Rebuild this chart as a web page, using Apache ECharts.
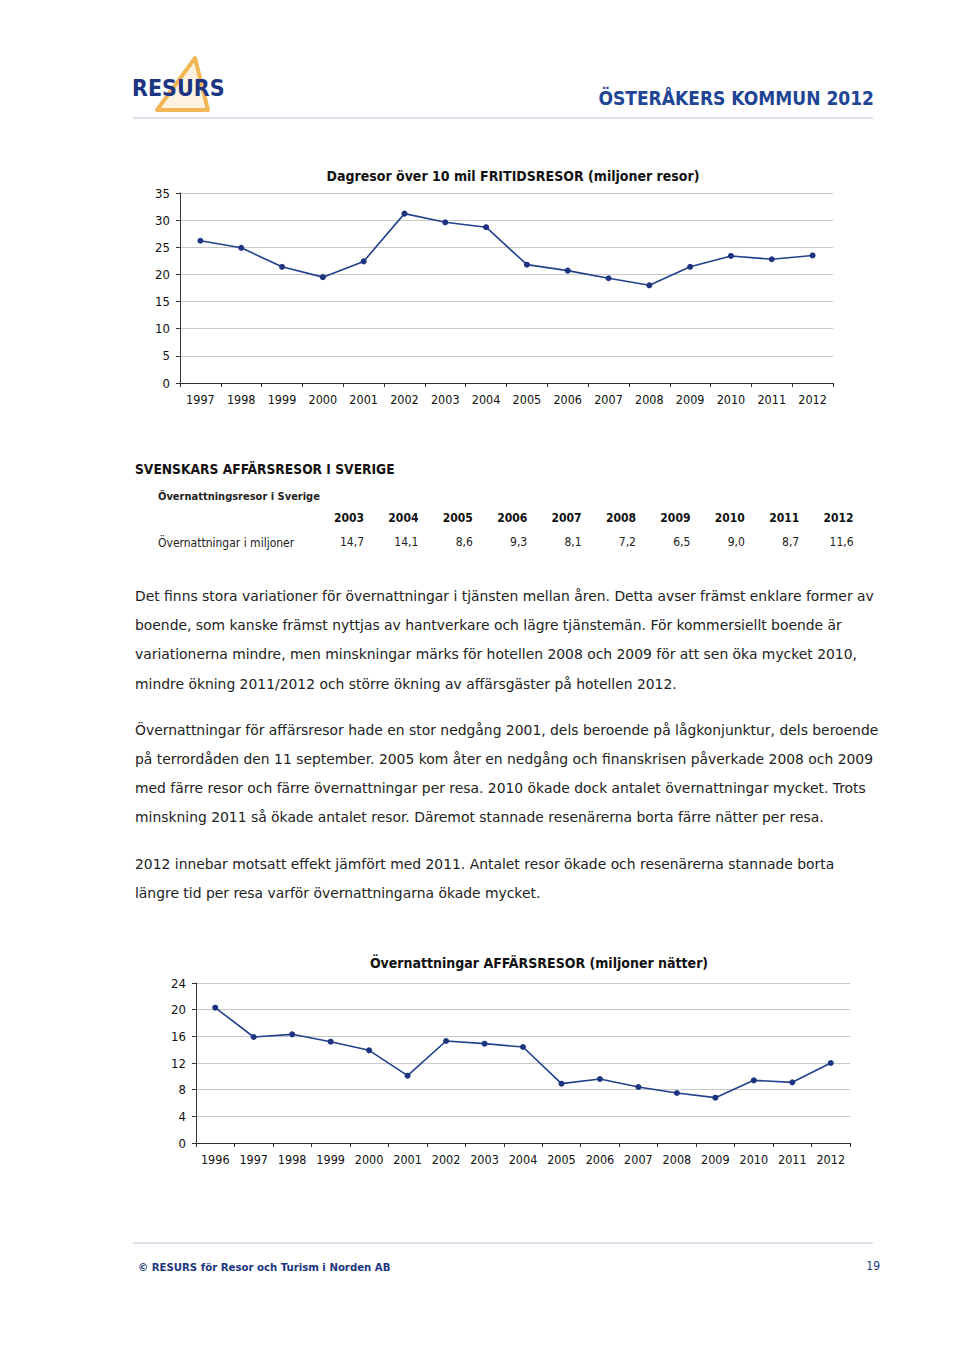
<!DOCTYPE html>
<html>
<head>
<meta charset="utf-8">
<script src="https://cdn.jsdelivr.net/npm/echarts@6/dist/echarts.min.js"></script>
<style>
html,body{margin:0;padding:0;background:#fff;}
#page{width:960px;height:1357px;}
</style>
</head>
<body>
<div id="page"></div>
<script>
// ---- Data ----
const fritidYears = ['1997','1998','1999','2000','2001','2002','2003','2004','2005','2006','2007','2008','2009','2010','2011','2012'];
const fritidValues = [26.2, 24.9, 21.4, 19.5, 22.4, 31.2, 29.6, 28.7, 21.8, 20.7, 19.3, 18.0, 21.4, 23.4, 22.8, 23.5];

const affarYears = ['1996','1997','1998','1999','2000','2001','2002','2003','2004','2005','2006','2007','2008','2009','2010','2011','2012'];
const affarValues = [20.3, 15.9, 16.3, 15.2, 13.9, 10.1, 15.3, 14.9, 14.4, 8.9, 9.6, 8.4, 7.5, 6.8, 9.4, 9.1, 12.0];

const tableYears = ['2003','2004','2005','2006','2007','2008','2009','2010','2011','2012'];
const tableValues = ['14,7','14,1','8,6','9,3','8,1','7,2','6,5','9,0','8,7','11,6'];

const paragraphLines = [
  'Det finns stora variationer för övernattningar i tjänsten mellan åren. Detta avser främst enklare former av',
  'boende, som kanske främst nyttjas av hantverkare och lägre tjänstemän. För kommersiellt boende är',
  'variationerna mindre, men minskningar märks för hotellen 2008 och 2009 för att sen öka mycket 2010,',
  'mindre ökning 2011/2012 och större ökning av affärsgäster på hotellen 2012.',
  'Övernattningar för affärsresor hade en stor nedgång 2001, dels beroende på lågkonjunktur, dels beroende',
  'på terrordåden den 11 september. 2005 kom åter en nedgång och finanskrisen påverkade 2008 och 2009',
  'med färre resor och färre övernattningar per resa. 2010 ökade dock antalet övernattningar mycket. Trots',
  'minskning 2011 så ökade antalet resor. Däremot stannade resenärerna borta färre nätter per resa.',
  '2012 innebar motsatt effekt jämfört med 2011. Antalet resor ökade och resenärerna stannade borta',
  'längre tid per resa varför övernattningarna ökade mycket.'
];
const paragraphY = [596, 625, 654, 684, 730, 759, 788, 817, 864, 893];

// ---- Styles ----
const FONT = '"DejaVu Sans Condensed","DejaVu Sans",sans-serif';
const BODY = '"DejaVu Sans",sans-serif';
const NAVY = '#1d3580';
const LINE = '#23408c';

const chart = echarts.init(document.getElementById('page'), null, {renderer: 'svg', width: 960, height: 1357});

const graphics = [];
function txt(x, y, text, font, fill, align) {
  graphics.push({type: 'text', x: x, y: y, silent: true,
    style: {text: text, font: font, fill: fill || '#222', textAlign: align || 'left', textVerticalAlign: 'middle'}});
}
// header
graphics.push({type: 'polygon', silent: true, shape: {points: [[195, 58], [157, 110], [208, 110]]},
  style: {fill: 'rgba(246,205,130,0.25)', stroke: '#f1b757', lineWidth: 4, lineJoin: 'round'}});
txt(132, 88, 'RESURS', 'bold 23px ' + FONT, NAVY);
txt(874, 98, 'ÖSTERÅKERS KOMMUN 2012', 'bold 19px ' + FONT, '#1f4596', 'right');
graphics.push({type: 'line', silent: true, shape: {x1: 133, y1: 118, x2: 873, y2: 118}, style: {stroke: '#b9c4d4', lineWidth: 1}});

// chart titles
txt(513, 176, 'Dagresor över 10 mil FRITIDSRESOR (miljoner resor)', 'bold 14px ' + FONT, '#111', 'center');
txt(539, 963, 'Övernattningar AFFÄRSRESOR (miljoner nätter)', 'bold 14px ' + FONT, '#111', 'center');

// table
txt(135, 469, 'SVENSKARS AFFÄRSRESOR I SVERIGE', 'bold 13.7px ' + FONT, '#111');
txt(158, 496, 'Övernattningsresor i Sverige', 'bold 11px ' + FONT, '#222');
txt(158, 543, 'Övernattningar i miljoner', '12px ' + FONT, '#222');
tableYears.forEach(function (yr, i) {
  const xr = 364 + i * 54.4;
  txt(xr, 518, yr, 'bold 12px ' + FONT, '#111', 'right');
  txt(xr, 542, tableValues[i], '12px ' + FONT, '#222', 'right');
});

// paragraphs
paragraphLines.forEach(function (line, i) {
  txt(135, paragraphY[i], line, '13.9px ' + BODY, '#222');
});

// footer
graphics.push({type: 'line', silent: true, shape: {x1: 133, y1: 1243, x2: 873, y2: 1243}, style: {stroke: '#b9c4d4', lineWidth: 1}});
txt(138, 1267, '© RESURS för Resor och Turism i Norden AB', 'bold 11.3px ' + FONT, NAVY);
txt(880, 1266, '19', '12px ' + FONT, NAVY, 'right');

function yAxisCfg(gridIndex, max, interval) {
  return {type: 'value', gridIndex: gridIndex, min: 0, max: max, interval: interval,
    axisLine: {show: true, lineStyle: {color: '#333', width: 1}},
    axisTick: {show: true, length: 4, lineStyle: {color: '#333'}},
    axisLabel: {color: '#111', fontSize: 13, fontFamily: FONT, margin: 10},
    splitLine: {show: true, lineStyle: {color: '#c8c8c8', width: 1}}};
}
function xAxisCfg(gridIndex, data) {
  return {type: 'category', gridIndex: gridIndex, data: data, boundaryGap: true,
    axisLine: {show: true, lineStyle: {color: '#333', width: 1}},
    axisTick: {show: true, length: 4, alignWithLabel: false, lineStyle: {color: '#333'}},
    axisLabel: {color: '#111', fontSize: 12.5, fontFamily: FONT, margin: 10, interval: 0}};
}

chart.setOption({
  backgroundColor: '#fff',
  animation: false,
  grid: [
    {left: 180, top: 193, width: 653, height: 190},
    {left: 196, top: 983, width: 654, height: 160}
  ],
  xAxis: [xAxisCfg(0, fritidYears), xAxisCfg(1, affarYears)],
  yAxis: [yAxisCfg(0, 35, 5), yAxisCfg(1, 24, 4)],
  series: [
    {type: 'line', xAxisIndex: 0, yAxisIndex: 0, data: fritidValues, symbol: 'circle', symbolSize: 6,
      lineStyle: {color: LINE, width: 1.6}, itemStyle: {color: NAVY}},
    {type: 'line', xAxisIndex: 1, yAxisIndex: 1, data: affarValues, symbol: 'circle', symbolSize: 6,
      lineStyle: {color: LINE, width: 1.6}, itemStyle: {color: NAVY}}
  ],
  graphic: graphics
});
</script>
</body>
</html>
